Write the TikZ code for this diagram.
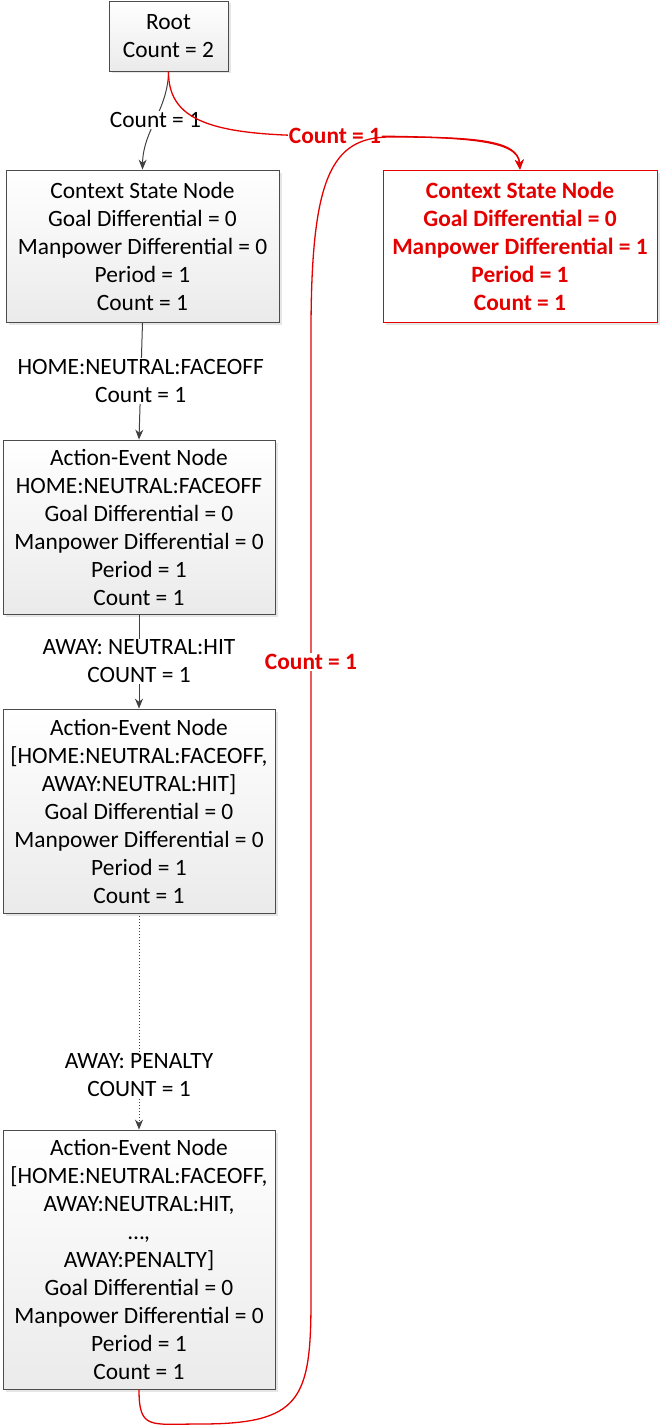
\documentclass[tikz,border=0pt]{standalone}
\usepackage{fontspec}
\setmainfont{Carlito}
\usetikzlibrary{arrows.meta,shadows}

\begin{document}
\begin{tikzpicture}[x=1pt,y=-1pt,
  box/.style={draw=black!70,line width=0.8pt,top color=white,bottom color=black!8,
    align=center,inner sep=0pt,font=\fontsize{23.4}{28}\selectfont,
    drop shadow={shadow xshift=2.5pt,shadow yshift=-2.5pt,opacity=0.2}},
  redbox/.style={box,draw=red!90!black,top color=white,bottom color=white,
    text=red!90!black,font=\fontsize{23.4}{28}\selectfont\bfseries},
  lab/.style={fill=white,inner sep=1pt,align=center,font=\fontsize{23.4}{28}\selectfont},
  redlab/.style={lab,text=red!90!black,font=\fontsize{23.4}{28}\selectfont\bfseries},
  conn/.style={draw=black!75,line width=1pt,-{Stealth[length=10pt,width=8pt]}},
  redline/.style={draw=red!90!black,line width=1.3pt,-{Stealth[length=10pt,width=9pt]}}]
  \useasboundingbox (0,0) rectangle (661,1426);

  % noduri
  \node[box,minimum width=119pt,minimum height=70pt] (root) at (168.5,36) {Root\\Count = 2};
  \node[box,minimum width=273pt,minimum height=152pt] (ctx) at (142.5,246)
    {Context State Node\\Goal Differential = 0\\Manpower Differential = 0\\Period = 1\\Count = 1};
  \node[redbox,minimum width=274pt,minimum height=152pt] (ctxr) at (520,246)
    {Context State Node\\Goal Differential = 0\\Manpower Differential = 1\\Period = 1\\Count = 1};
  \node[box,minimum width=272pt,minimum height=174pt] (ae1) at (139,527)
    {Action-Event Node\\HOME:NEUTRAL:FACEOFF\\Goal Differential = 0\\Manpower Differential = 0\\Period = 1\\Count = 1};
  \node[box,minimum width=272pt,minimum height=204pt] (ae2) at (139,811)
    {Action-Event Node\\{[}HOME:NEUTRAL:FACEOFF,\\AWAY:NEUTRAL:HIT]\\Goal Differential = 0\\Manpower Differential = 0\\Period = 1\\Count = 1};
  \node[box,minimum width=272pt,minimum height=259pt] (ae3) at (139,1259.5)
    {Action-Event Node\\{[}HOME:NEUTRAL:FACEOFF,\\AWAY:NEUTRAL:HIT,\\\dots,\\AWAY:PENALTY]\\Goal Differential = 0\\Manpower Differential = 0\\Period = 1\\Count = 1};

  % muchii
  \draw[conn] (root.south) .. controls (168,110) and (143,130) .. node[lab]{Count = 1} (ctx.north);
  \draw[conn] (ctx.south) -- node[lab]{HOME:NEUTRAL:FACEOFF\\Count = 1} (ae1.north);
  \draw[conn] (ae1.south) -- node[lab]{AWAY: NEUTRAL:HIT\\COUNT = 1} (ae2.north);
  \draw[conn,dotted] (ae2.south) -- node[lab,pos=0.75]{AWAY: PENALTY\\COUNT = 1} (ae3.north);

  % muchii rosii
  \draw[redline] (root.south) .. controls (168,125) and (220,136) .. (335,136)
    node[redlab]{Count = 1} .. controls (470,136) and (518,140) .. (ctxr.north);
  \draw[redline] (ae3.south) .. controls (139,1430) and (150,1424) .. (200,1424)
    .. controls (300,1424) and (311,1400) .. (311,1300)
    -- node[redlab,pos=0.66]{Count = 1} (311,333)
    .. controls (311,180) and (330,137) .. (390,137)
    .. controls (475,137) and (518,140) .. (ctxr.north);
\end{tikzpicture}
\end{document}
